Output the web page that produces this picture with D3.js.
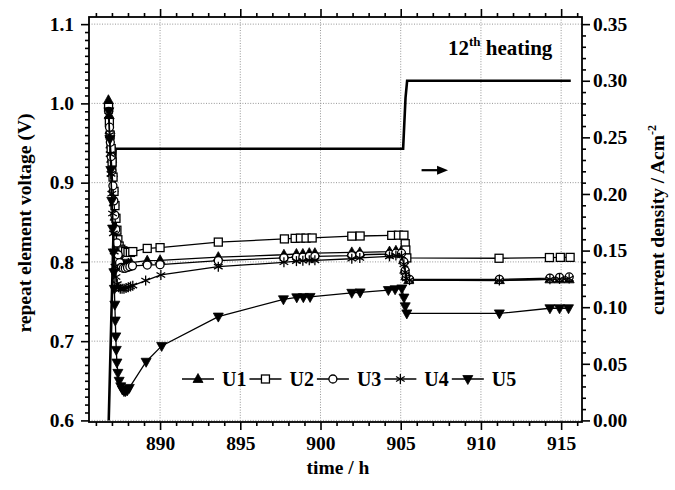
<!DOCTYPE html>
<html>
<head>
<meta charset="utf-8">
<script src="https://cdn.jsdelivr.net/npm/d3@7"></script>
<style>
  body { margin: 0; background: #fff; }
  svg text { font-family: "Liberation Serif", "Times New Roman", serif; font-weight: bold; fill: #000; }
</style>
</head>
<body>
<svg id="chart" width="675" height="490"></svg>
<script>
// ---- data: [time (h), repeat element voltage (V)] ----
const seriesU1 = [
  [886.78,1.004],[886.83,0.985],[886.88,0.966],[886.93,0.948],[886.98,0.930],[887.03,0.912],
  [887.08,0.893],[887.13,0.875],[887.19,0.857],[887.25,0.840],[887.32,0.823],[887.41,0.810],
  [887.52,0.802],[887.63,0.798],[887.75,0.797],[887.88,0.797],[888.02,0.798],[888.18,0.799],
  [889.20,0.8015],[890.00,0.802],[893.63,0.806],[897.72,0.809],[898.50,0.810],[898.90,0.810],
  [899.30,0.811],[899.65,0.811],[901.95,0.812],[902.45,0.812],[904.30,0.813],[904.70,0.814],
  [905.05,0.814],[905.18,0.802],[905.25,0.790],[905.32,0.782],[905.50,0.777],[911.15,0.777],
  [914.30,0.778],[914.90,0.778],[915.50,0.778]
];
const seriesU2 = [
  [886.79,0.995],[886.84,0.976],[886.89,0.960],[886.95,0.943],[887.01,0.926],[887.07,0.907],
  [887.13,0.889],[887.19,0.871],[887.25,0.855],[887.31,0.840],[887.37,0.828],[887.45,0.820],
  [887.55,0.816],[887.68,0.814],[887.85,0.813],[888.00,0.812],[888.15,0.812],[888.30,0.813],
  [889.20,0.817],[890.00,0.818],[893.63,0.825],[897.75,0.829],[898.42,0.8297],[898.75,0.830],
  [899.10,0.830],[899.48,0.8302],[901.95,0.8325],[902.47,0.8327],[904.44,0.8335],[904.86,0.8337],
  [905.20,0.8337],[905.28,0.823],[905.32,0.815],[905.38,0.805],[911.13,0.8046],[914.27,0.8055],
  [914.95,0.8057],[915.56,0.8057]
];
const seriesU3 = [
  [886.80,0.990],[886.85,0.970],[886.90,0.951],[886.95,0.933],[887.00,0.915],[887.06,0.896],
  [887.12,0.877],[887.18,0.859],[887.24,0.841],[887.31,0.824],[887.39,0.809],[887.48,0.799],
  [887.58,0.793],[887.70,0.792],[887.83,0.792],[887.97,0.793],[888.12,0.794],[888.28,0.795],
  [889.20,0.796],[890.00,0.7965],[893.63,0.8015],[897.72,0.805],[898.50,0.806],[898.90,0.806],
  [899.30,0.807],[899.65,0.807],[901.95,0.808],[902.45,0.809],[904.30,0.810],[904.70,0.811],
  [905.05,0.811],[905.20,0.800],[905.28,0.789],[905.35,0.781],[905.55,0.778],[911.15,0.778],
  [914.30,0.7795],[914.90,0.7805],[915.50,0.781]
];
const seriesU4 = [
  [886.79,0.985],[886.84,0.960],[886.89,0.936],[886.94,0.911],[886.99,0.886],[887.04,0.861],
  [887.09,0.836],[887.14,0.813],[887.19,0.794],[887.25,0.781],[887.33,0.772],[887.42,0.768],
  [887.52,0.766],[887.63,0.766],[887.75,0.766],[887.88,0.767],[888.02,0.768],[888.16,0.769],
  [888.30,0.770],[889.10,0.7765],[890.05,0.7835],[893.63,0.794],[897.72,0.7995],[898.50,0.801],
  [898.90,0.8015],[899.30,0.802],[899.65,0.802],[901.95,0.804],[902.45,0.805],[904.30,0.807],
  [904.70,0.808],[905.05,0.808],[905.20,0.797],[905.28,0.787],[905.35,0.779],[905.55,0.777],
  [911.15,0.7765],[914.30,0.778],[914.90,0.7785],[915.50,0.779]
];
const seriesU5 = [
  [886.81,0.990],[886.87,0.955],[886.93,0.916],[886.99,0.877],[887.04,0.842],[887.08,0.812],
  [887.12,0.787],[887.15,0.766],[887.18,0.746],[887.21,0.726],[887.24,0.706],[887.27,0.689],
  [887.31,0.673],[887.37,0.660],[887.45,0.650],[887.55,0.643],[887.65,0.639],[887.75,0.637],
  [887.85,0.637],[887.96,0.638],[888.08,0.641],[889.13,0.674],[890.10,0.694],[893.63,0.731],
  [897.69,0.7528],[898.52,0.7553],[898.93,0.7555],[899.35,0.7558],[901.95,0.761],[902.47,0.7615],
  [904.23,0.7645],[904.65,0.7655],[905.07,0.7665],[905.20,0.755],[905.28,0.744],[905.38,0.735],
  [911.15,0.735],[914.30,0.7415],[914.90,0.7415],[915.46,0.7415]
];

// applied load: [time (h), current density (A cm^-2)]
const currentProfile = [
  [886.80,0.000],[887.23,0.240],[905.15,0.240],[905.30,0.285],[905.40,0.300],[915.60,0.300]
];

const seriesNames = ["U1", "U2", "U3", "U4", "U5"];
const seriesData  = [seriesU1, seriesU2, seriesU3, seriesU4, seriesU5];
const seriesSymbols = ["triangleUp", "square", "circle", "asterisk", "triangleDown"];

const xMajorTicks = [890, 895, 900, 905, 910, 915];
const xMinorTicks = [886,887,888,889,891,892,893,894,896,897,898,899,901,902,903,904,906,907,908,909,911,912,913,914,916];
const yMajorTicks = [0.6, 0.7, 0.8, 0.9, 1.0, 1.1];
const yRightMajorTicks = [0.00, 0.05, 0.10, 0.15, 0.20, 0.25, 0.30, 0.35];

// arrow pointing at the right-hand axis: [time, current density]
const arrowFrom = [906.30, 0.221];
const arrowTo   = [907.95, 0.221];

// ---- layout ----
const frame = { left: 89, right: 582, top: 17, bottom: 422 };
const svg = d3.select("#chart");

const x = d3.scaleLinear().domain([885.57, 916.30]).range([frame.left, frame.right]);
const y = d3.scaleLinear().domain([0.598, 1.109]).range([frame.bottom, frame.top]);
// current density axis: 0 A/cm2 at 0.6 V, 0.35 A/cm2 at 1.1 V
const yR = d3.scaleLinear().domain([(0.598 - 0.6) * 0.7, (1.109 - 0.6) * 0.7]).range([frame.bottom, frame.top]);

const yMinorTicks = d3.range(60, 111).filter(v => v % 10 !== 0).map(v => v / 100);
const yRightMinorTicks = d3.range(0, 36).filter(v => v % 5 !== 0).map(v => v / 100);

const tickFont = 19.5;

// grid
const grid = svg.append("g").attr("stroke", "#8a8a8a").attr("stroke-width", 0.9)
  .attr("stroke-dasharray", "1,1.6");
grid.selectAll("line.gx").data(xMajorTicks).join("line")
  .attr("x1", d => x(d)).attr("x2", d => x(d)).attr("y1", frame.top).attr("y2", frame.bottom);
grid.selectAll("line.gy").data(yMajorTicks).join("line")
  .attr("y1", d => y(d)).attr("y2", d => y(d)).attr("x1", frame.left).attr("x2", frame.right);

function styleAxis(g) {
  g.select(".domain").remove();
  g.selectAll(".tick line").attr("stroke", "#000").attr("stroke-width", 1.6);
  g.selectAll(".tick text").attr("font-size", tickFont)
    .attr("font-family", '"Liberation Serif", "Times New Roman", serif').attr("font-weight", "bold");
}

// bottom axis
svg.append("g").attr("transform", `translate(0,${frame.bottom})`)
  .call(d3.axisBottom(x).tickValues(xMajorTicks).tickSize(8).tickPadding(6).tickFormat(d3.format("d")))
  .call(styleAxis);
svg.append("g").attr("transform", `translate(0,${frame.bottom})`)
  .call(d3.axisBottom(x).tickValues(xMinorTicks).tickSize(4).tickFormat(""))
  .call(styleAxis);
// top axis
svg.append("g").attr("transform", `translate(0,${frame.top})`)
  .call(d3.axisTop(x).tickValues(xMajorTicks).tickSize(8).tickFormat(""))
  .call(styleAxis);
svg.append("g").attr("transform", `translate(0,${frame.top})`)
  .call(d3.axisTop(x).tickValues(xMinorTicks).tickSize(4).tickFormat(""))
  .call(styleAxis);
// left axis
svg.append("g").attr("transform", `translate(${frame.left},0)`)
  .call(d3.axisLeft(y).tickValues(yMajorTicks).tickSize(8).tickPadding(7).tickFormat(d3.format(".1f")))
  .call(styleAxis);
svg.append("g").attr("transform", `translate(${frame.left},0)`)
  .call(d3.axisLeft(y).tickValues(yMinorTicks).tickSize(4).tickFormat(""))
  .call(styleAxis);
// right axis
svg.append("g").attr("transform", `translate(${frame.right},0)`)
  .call(d3.axisRight(yR).tickValues(yRightMajorTicks).tickSize(8).tickPadding(3).tickFormat(d3.format(".2f")))
  .call(styleAxis);
svg.append("g").attr("transform", `translate(${frame.right},0)`)
  .call(d3.axisRight(yR).tickValues(yRightMinorTicks).tickSize(4).tickFormat(""))
  .call(styleAxis);

// frame
svg.append("rect").attr("x", frame.left).attr("y", frame.top)
  .attr("width", frame.right - frame.left).attr("height", frame.bottom - frame.top)
  .attr("fill", "none").attr("stroke", "#000").attr("stroke-width", 1.8);

const plot = svg.append("g");

// current density step profile
plot.append("path").datum(currentProfile)
  .attr("fill", "none").attr("stroke", "#000").attr("stroke-width", 2.6).attr("stroke-linejoin", "miter")
  .attr("d", d3.line().x(d => x(d[0])).y(d => yR(d[1])));

// arrow to the right axis
const ax1 = x(arrowFrom[0]), ay = yR(arrowFrom[1]), ax2 = x(arrowTo[0]);
plot.append("line").attr("x1", ax1).attr("x2", ax2 - 8).attr("y1", ay).attr("y2", ay)
  .attr("stroke", "#000").attr("stroke-width", 2.2);
plot.append("path").attr("d", `M${ax2},${ay} L${ax2 - 11},${ay - 4.5} L${ax2 - 11},${ay + 4.5} Z`)
  .attr("fill", "#000");

// symbol drawing
function drawSymbol(g, type, cx, cy) {
  if (type === "triangleUp") {
    g.append("path").attr("d", `M${cx},${cy - 5.5} L${cx + 5},${cy + 3.5} L${cx - 5},${cy + 3.5} Z`)
      .attr("fill", "#000").attr("stroke", "#000").attr("stroke-width", 0.8);
  } else if (type === "triangleDown") {
    g.append("path").attr("d", `M${cx},${cy + 5.5} L${cx + 5},${cy - 3.5} L${cx - 5},${cy - 3.5} Z`)
      .attr("fill", "#000").attr("stroke", "#000").attr("stroke-width", 0.8);
  } else if (type === "square") {
    g.append("rect").attr("x", cx - 4).attr("y", cy - 4).attr("width", 8).attr("height", 8)
      .attr("fill", "#fff").attr("stroke", "#000").attr("stroke-width", 1.3);
  } else if (type === "circle") {
    g.append("circle").attr("cx", cx).attr("cy", cy).attr("r", 4)
      .attr("fill", "#fff").attr("stroke", "#000").attr("stroke-width", 1.3);
  } else if (type === "asterisk") {
    const r = 5;
    [90, 30, 150].forEach(a => {
      const dx = r * Math.cos(a * Math.PI / 180), dy = r * Math.sin(a * Math.PI / 180);
      g.append("line").attr("x1", cx - dx).attr("y1", cy - dy).attr("x2", cx + dx).attr("y2", cy + dy)
        .attr("stroke", "#000").attr("stroke-width", 1.3);
    });
  }
}

const line = d3.line().x(d => x(d[0])).y(d => y(d[1]));
seriesData.forEach((data, i) => {
  const g = plot.append("g");
  g.append("path").datum(data).attr("fill", "none").attr("stroke", "#000")
    .attr("stroke-width", 1.3).attr("d", line);
  data.forEach(d => drawSymbol(g, seriesSymbols[i], x(d[0]), y(d[1])));
});

// legend
const legend = svg.append("g").attr("transform", "translate(182,379)");
let lx = 0;
seriesNames.forEach((name, i) => {
  const g = legend.append("g").attr("transform", `translate(${lx},0)`);
  g.append("line").attr("x1", 0).attr("x2", 32).attr("y1", 0).attr("y2", 0)
    .attr("stroke", "#000").attr("stroke-width", 1.5);
  drawSymbol(g, seriesSymbols[i], 16, 0);
  const t = g.append("text").attr("x", 40).attr("y", 7).attr("font-size", 20).text(name);
  lx += 40 + t.node().getComputedTextLength() + 3;
});

// annotation
const heat = svg.append("text").attr("x", 448).attr("y", 55).attr("font-size", 21);
heat.append("tspan").text("12");
heat.append("tspan").attr("font-size", 13).attr("dy", -9).text("th");
heat.append("tspan").attr("dy", 9).text(" heating");

// axis titles
svg.append("text").attr("transform", "translate(31,223) rotate(-90)")
  .attr("text-anchor", "middle").attr("font-size", 19.5).text("repeat element voltage (V)");
svg.append("text").attr("x", 338).attr("y", 474).attr("text-anchor", "middle")
  .attr("font-size", 19.5).text("time / h");
const rt = svg.append("text").attr("transform", "translate(664,220) rotate(-90)")
  .attr("text-anchor", "middle").attr("font-size", 19.5);
rt.append("tspan").text("current density / Acm");
rt.append("tspan").attr("font-size", 12).attr("dy", -8).text("-2");
</script>
</body>
</html>
